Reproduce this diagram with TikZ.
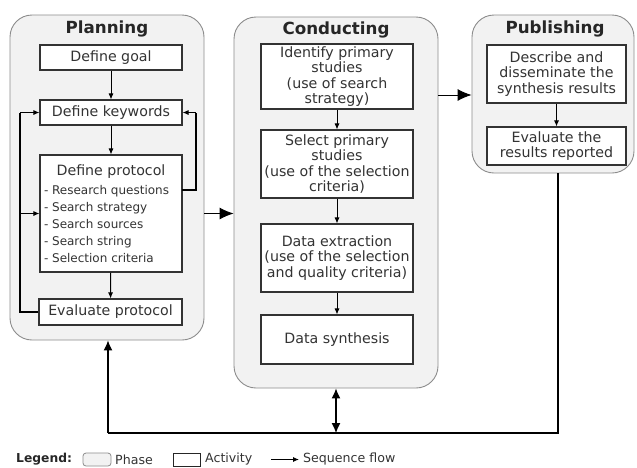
\documentclass[tikz,border=0pt]{standalone}
\usepackage{fontspec}
\setmainfont{DejaVu Sans}
\usetikzlibrary{arrows.meta}
\begin{document}
\begin{tikzpicture}[x=1pt,y=-1pt,
 phase/.style={draw=black!45, fill=black!5, rounded corners=22pt, line width=0.9pt, inner sep=0pt},
 act/.style={draw=black!80, fill=white, line width=1.1pt, align=center, inner sep=0pt, font=\fontsize{14.2}{15.5}\selectfont, text=black!80},
 ttl/.style={font=\bfseries\fontsize{16.7}{18}\selectfont, text=black!85},
 lgt/.style={font=\fontsize{12.6}{14}\selectfont, text=black!80, inner sep=0pt, anchor=west},
 flow/.style={-{Latex[length=6pt,width=5pt]}, line width=0.9pt},
 bigflow/.style={-{Latex[length=14pt,width=12pt]}, line width=0.9pt},
 fb/.style={line width=1.3pt},
 ]
\useasboundingbox (0,0) rectangle (637,467);
% phases
\node[phase, minimum width=194pt, minimum height=325pt] (plan) at (107,177.5) {};
\node[phase, minimum width=204pt, minimum height=371pt] (cond) at (336,202.5) {};
\node[phase, minimum width=162pt, minimum height=158pt] (pub) at (553,94) {};
\node[ttl] (tplan) at (107,29) {Planning};
\node[ttl] (tcond) at (336,30) {Conducting};
\node[ttl] (tpub) at (555,29) {Publishing};
% planning activities
\node[act, minimum width=142pt, minimum height=25pt] (goal) at (111,57.5) {Define goal};
\node[act, minimum width=142pt, minimum height=25pt] (kw) at (111,112.5) {Define keywords};
\node[act, minimum width=142pt, minimum height=117pt] (proto) at (111,213.5)
 {\parbox{134pt}{\centering Define protocol\par\vspace{2pt}\raggedright\fontsize{12}{17}\selectfont
 - Research questions\\- Search strategy\\- Search sources\\- Search string\\- Selection criteria}};
\node[act, minimum width=143pt, minimum height=26pt] (evalp) at (110.5,312) {Evaluate protocol};
% conducting activities
\node[act, minimum width=152pt, minimum height=65pt] (ident) at (337,76.5) {Identify primary\\studies\\(use of search\\strategy)};
\node[act, minimum width=152pt, minimum height=68pt] (sel) at (337,164) {Select primary\\studies\\(use of the selection\\criteria)};
\node[act, minimum width=152pt, minimum height=68pt] (extr) at (337,258) {Data extraction\\(use of the selection\\and quality criteria)};
\node[act, minimum width=152pt, minimum height=49pt] (synt) at (337,339.5) {Data synthesis};
% publishing activities
\node[act, minimum width=139pt, minimum height=58pt] (desc) at (556.5,74) {Describe and\\disseminate the\\synthesis results};
\node[act, minimum width=139pt, minimum height=38pt] (evalr) at (556.5,146) {Evaluate the\\results reported};
% helper coordinates
\coordinate (lx) at (20,0);
\coordinate (rx) at (196,0);
\coordinate (pr) at (182,190);
\coordinate (cp) at (0,95);
\coordinate (bl) at (0,433);
\coordinate (pubx) at (558,0);
\coordinate (planx) at (108,0);
% planning flows
\draw[flow] (goal) -- (kw);
\draw[flow] (kw) -- (proto);
\draw[flow] (proto) -- (evalp);
\draw[fb] (evalp.west) -- (lx |- evalp.west) -- (lx |- kw.west);
\draw[flow] (lx |- kw.west) -- (kw.west);
\draw[flow] (lx |- proto.west) -- (proto.west);
\draw[line width=1.1pt] (pr) -- (rx |- pr) -- (rx |- kw.east);
\draw[flow] (rx |- kw.east) -- (kw.east);
% conducting flows
\draw[flow] (ident) -- (sel);
\draw[flow] (sel) -- (extr);
\draw[flow] (extr) -- (synt);
\draw[flow] (desc) -- (evalr);
% phase flows
\draw[bigflow] (plan.east |- proto.west) -- (cond.west |- proto.west);
\draw[bigflow] (cond.east |- cp) -- (pub.west |- cp);
\draw[line width=1.1pt] (pubx |- pub.south) -- (pubx |- bl) -- (planx |- bl);
\draw[line width=1.1pt, -{Latex[length=10pt,width=9pt]}] (planx |- bl) -- (planx |- plan.south);
\draw[line width=1.1pt, {Latex[length=10pt,width=9pt]}-{Latex[length=10pt,width=9pt]}] (cond.south |- bl) -- (cond.south);
% legend
\node[font=\bfseries\fontsize{12.3}{14}\selectfont, text=black!85, anchor=west, inner sep=0pt] (lg) at (16,459.5) {Legend:};
\node[phase, rounded corners=3pt, minimum width=28pt, minimum height=13pt, line width=0.8pt] (lp) at (97,459.5) {};
\node[lgt] (lpt) at (115,459.5) {Phase};
\node[draw=black!85, line width=1pt, minimum width=27pt, minimum height=13pt, inner sep=0pt] (la) at (186.5,459.5) {};
\node[lgt] (lat) at (205,459.5) {Activity};
\coordinate (la1) at (271,459.5);
\coordinate (la2) at (299,459.5);
\node[lgt] (lst) at (303,459.5) {Sequence flow};
\draw[flow] (la1) -- (la2);
\end{tikzpicture}
\end{document}
